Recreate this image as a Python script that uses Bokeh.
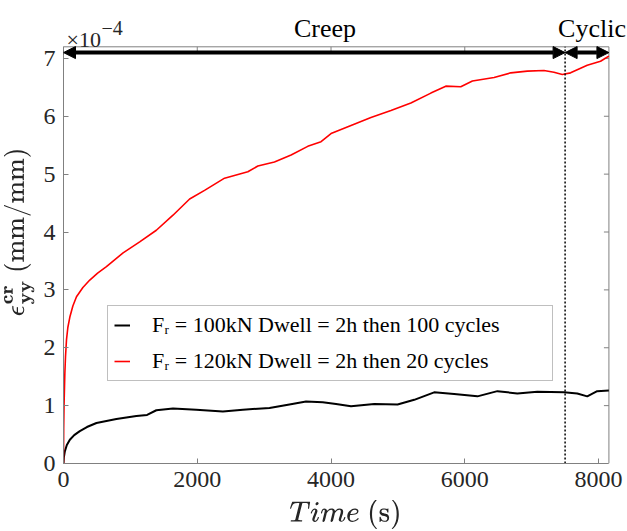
from bokeh.plotting import figure
from bokeh.models import (Range1d, FixedTicker, Arrow, NormalHead,
                          Label, Legend, LegendItem, TeX)
from bokeh.embed import file_html
from bokeh.resources import INLINE

# Time (s) and creep strain (x 1e-4 mm/mm)
t_120 = [0, 3, 8, 20, 30, 45, 65, 95, 140, 194, 290, 393, 510, 642, 891, 1139, 1388, 1637,
         1886, 2109, 2408, 2756, 2906, 3154, 3403, 3652, 3851, 4000, 4299, 4597, 4896,
         5194, 5493, 5716, 5940, 6114, 6438, 6687, 6935, 7184, 7333, 7458, 7582, 7831,
         8030, 8154]
e_120 = [0.0, 0.6, 1.0, 1.55, 1.85, 2.14, 2.35, 2.53, 2.72, 2.88, 3.04, 3.17, 3.29, 3.40,
         3.64, 3.83, 4.03, 4.29, 4.57, 4.72, 4.93, 5.04, 5.14, 5.21, 5.33, 5.48, 5.56,
         5.70, 5.84, 5.98, 6.10, 6.23, 6.40, 6.52, 6.51, 6.61, 6.67, 6.75, 6.78, 6.79,
         6.76, 6.72, 6.75, 6.88, 6.95, 7.04]

t_100 = [0, 5, 20, 50, 95, 160, 244, 350, 493, 791, 1090, 1250, 1388, 1637, 1985, 2383,
         2682, 3080, 3378, 3627, 3876, 4075, 4299, 4647, 4995, 5244, 5542, 5841, 6189,
         6488, 6786, 7085, 7483, 7682, 7831, 7980, 8154]
e_100 = [0.0, 0.10, 0.21, 0.32, 0.41, 0.49, 0.56, 0.63, 0.70, 0.77, 0.82, 0.84, 0.92,
         0.95, 0.93, 0.90, 0.93, 0.96, 1.02, 1.07, 1.06, 1.03, 0.99, 1.03, 1.02, 1.10,
         1.23, 1.20, 1.16, 1.25, 1.21, 1.24, 1.23, 1.21, 1.16, 1.25, 1.26]

x_ticks = [0, 2000, 4000, 6000, 8000]
y_ticks = [0, 1, 2, 3, 4, 5, 6, 7]
t_end = 8155          # right edge of the axes box
y_max = 7.2           # top edge of the axes box
t_switch = 7500       # creep -> cyclic
arrow_level = 7.1
labels = ["F\u1d63 = 100kN Dwell = 2h then 100 cycles",
          "F\u1d63 = 120kN Dwell = 2h then 20 cycles"]

SERIF = "Liberation Serif"
AX = "#808080"
TXT = "#262626"

# the drawing area reaches the top and right edges of the page, so that the texts
# above the axes box are not clipped; the box itself is drawn at t_end / y_max
p = figure(width=627, height=531, output_backend="svg", toolbar_location=None,
           x_range=Range1d(0, 8433), y_range=Range1d(0, 8.0),
           min_border_left=62, min_border_right=0, min_border_top=0, min_border_bottom=67)
p.grid.visible = False
p.outline_line_color = None
p.background_fill_color = "white"
p.border_fill_color = "white"

bottom = p.below[0]
left = p.left[0]
bottom.ticker = FixedTicker(ticks=x_ticks)
left.ticker = FixedTicker(ticks=y_ticks)
bottom.bounds = (0, t_end)
left.bounds = (0, y_max)
for ax in (bottom, left):
    ax.axis_line_color = AX
    ax.major_tick_line_color = AX
    ax.major_tick_in = 5
    ax.major_tick_out = 0
    ax.minor_tick_line_color = None
    ax.major_label_text_font = SERIF
    ax.major_label_text_font_size = "24px"
    ax.major_label_text_color = TXT
bottom.major_label_standoff = 8
left.major_label_standoff = 8
bottom.axis_label = TeX(r"Time\ \mathrm{(s)}")
bottom.axis_label_text_font_size = "24px"
bottom.axis_label_standoff = 10
bottom.axis_label_text_color = TXT
left.axis_label = TeX(r"\epsilon^{\mathbf{cr}}_{\mathbf{yy}}\ \mathrm{(mm/mm)}")
left.axis_label_text_font_size = "22px"
left.axis_label_standoff = 6
left.axis_label_text_color = TXT

# top and right sides of the box, with inward ticks
p.line([0, t_end, t_end], [y_max, y_max, 0], line_color=AX, line_width=1)
p.ray(x=x_ticks, y=[y_max] * len(x_ticks), length=5, length_units="screen",
      angle=-90, angle_units="deg", line_color=AX, line_width=1)
p.ray(x=[t_end] * len(y_ticks), y=y_ticks, length=5, length_units="screen",
      angle=180, angle_units="deg", line_color=AX, line_width=1)

r100 = p.line(t_100, e_100, line_color="black", line_width=2)
r120 = p.line(t_120, e_120, line_color="#ff0000", line_width=1.6)

# dotted divider between creep and cyclic stages
p.line([t_switch, t_switch], [0, y_max], line_color="black", line_width=1.5,
       line_dash="2 2")

for xs, xe in ((0, t_switch), (t_switch, t_end)):
    p.add_layout(Arrow(x_start=xs, y_start=arrow_level, x_end=xe, y_end=arrow_level,
                       line_width=4, line_color="black",
                       start=NormalHead(size=12, fill_color="black", line_color="black"),
                       end=NormalHead(size=12, fill_color="black", line_color="black")))

def add_label(x, y, text, size, color="black", align="left"):
    p.add_layout(Label(x=x, y=y, text=text, text_align=align, text_baseline="alphabetic",
                       text_font=SERIF, text_font_size=size, text_color=color))

add_label(3910, 7.52, "Creep", "26px", align="center")
add_label(7903, 7.52, "Cyclic", "26px", align="center")
add_label(45, 7.33, "\u00d710", "22px", color=TXT)
add_label(567, 7.52, "\u22124", "20px", color=TXT)

legend = Legend(items=[LegendItem(label=labels[0], renderers=[r100]),
                       LegendItem(label=labels[1], renderers=[r120])],
                location=(44, 82), label_text_font=SERIF, label_text_font_size="22px",
                label_text_color="black", border_line_color=AX, border_line_width=1,
                background_fill_color="white", background_fill_alpha=1,
                glyph_width=16, glyph_height=20, label_height=20, label_standoff=22,
                label_width=394, spacing=10, padding=6, margin=0)
p.add_layout(legend, "center")

open("out.html", "w").write(file_html(p, INLINE))
